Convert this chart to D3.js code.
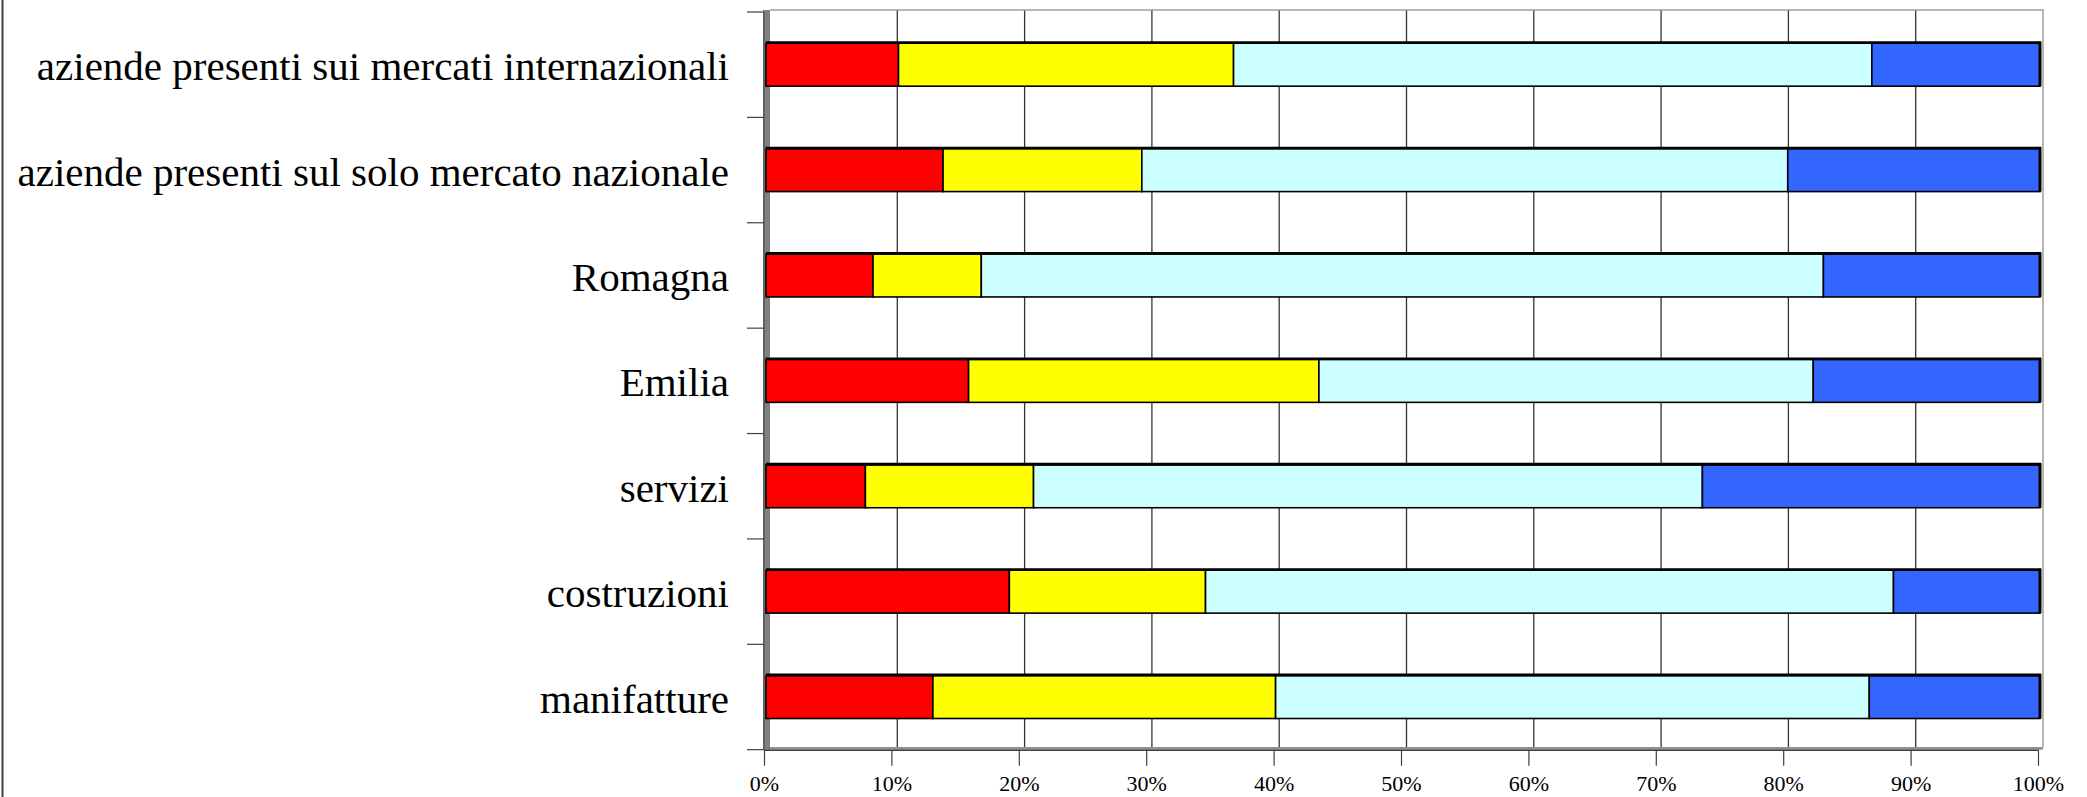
<!DOCTYPE html>
<html>
<head>
<meta charset="utf-8">
<script src="https://cdn.jsdelivr.net/npm/d3@7"></script>
<style>
  html, body { margin: 0; padding: 0; background: #fff; }
  svg { display: block; }
  text { font-family: "Liberation Serif", "Times New Roman", serif; }
</style>
</head>
<body>
<svg id="chart" width="2087" height="797"></svg>
<script>
// ---- Data ----
const categories = [
  "aziende presenti sui mercati internazionali",
  "aziende presenti sul solo mercato nazionale",
  "Romagna",
  "Emilia",
  "servizi",
  "costruzioni",
  "manifatture"
];
const seriesNames = ["s1", "s2", "s3", "s4"];
const seriesColors = ["#FF0000", "#FFFF00", "#CCFFFF", "#3366FF"];
const s1 = [10.4, 13.9, 8.4, 15.9, 7.8, 19.1, 13.1];
const s2 = [26.3, 15.6, 8.5, 27.5, 13.2, 15.4, 26.9];
const s3 = [50.1, 50.7, 66.1, 38.8, 52.5, 54.0, 46.6];
const s4 = [13.2, 19.8, 17.0, 17.8, 26.5, 11.5, 13.4];
const tickValues = [0, 10, 20, 30, 40, 50, 60, 70, 80, 90, 100];
const tickLabels = ["0%", "10%", "20%", "30%", "40%", "50%", "60%", "70%", "80%", "90%", "100%"];

// ---- Layout ----
const svg = d3.select("#chart");
const plotTop = 12, plotBottom = 749.7;
const wallTop = 10, floorY = 747;

const rows = categories.map((c, i) => {
  const vals = [s1[i], s2[i], s3[i], s4[i]];
  const tot = d3.sum(vals);
  return { cat: c, vals: vals.map(v => v / tot * 100) };
});

const x = d3.scaleLinear().domain([0, 100]).range([766, 2040]);      // bars
const xFront = d3.scaleLinear().domain([0, 100]).range([764, 2038]); // axis ticks
const xBack = d3.scaleLinear().domain([0, 100]).range([770, 2043]);  // back wall gridlines
const y = d3.scaleBand().domain(categories).range([plotTop, plotBottom])
  .paddingInner(0.592).paddingOuter(0.296);
const yEdge = d3.scaleLinear().domain([0, categories.length]).range([plotTop, plotBottom]);

// chart area left border
svg.append("line").attr("x1", 2.5).attr("x2", 2.5).attr("y1", 0).attr("y2", 797)
  .attr("stroke", "#404040").attr("stroke-width", 2);

// back wall gridlines
svg.append("g").selectAll("line").data(tickValues.slice(1, -1)).join("line")
  .attr("x1", d => xBack(d)).attr("x2", d => xBack(d))
  .attr("y1", wallTop).attr("y2", floorY)
  .attr("stroke", "#333333").attr("stroke-width", 1.3);

// back wall border (top + right)
svg.append("path")
  .attr("d", `M${xBack(0)},${wallTop} L${xBack(100)},${wallTop} L${xBack(100)},${floorY}`)
  .attr("fill", "none").attr("stroke", "#a0a0a0").attr("stroke-width", 1.5);

// floor
svg.append("rect").attr("x", xFront(0)).attr("y", floorY)
  .attr("width", xBack(100) - xFront(0)).attr("height", plotBottom - floorY)
  .attr("fill", "#909090");

// left side wall
svg.append("rect").attr("x", 763).attr("y", wallTop)
  .attr("width", xBack(0) - 763).attr("height", plotBottom - wallTop)
  .attr("fill", "#808080");

// category axis ticks (left)
svg.append("g").selectAll("line").data(d3.range(categories.length + 1)).join("line")
  .attr("x1", 747).attr("x2", 764)
  .attr("y1", d => yEdge(d)).attr("y2", d => yEdge(d))
  .attr("stroke", "#404040").attr("stroke-width", 1.2);
svg.append("line").attr("x1", 764).attr("x2", 764).attr("y1", plotTop).attr("y2", plotBottom)
  .attr("stroke", "#404040").attr("stroke-width", 1);

// category labels
svg.append("g").selectAll("text").data(categories).join("text")
  .attr("x", 729).attr("y", d => y(d) + y.bandwidth() / 2 + 15.5)
  .attr("text-anchor", "end").attr("font-size", 41).attr("fill", "#000")
  .text(d => d);

// bars
const barG = svg.append("g");
rows.forEach(r => {
  let acc = 0;
  const yy = y(r.cat), h = y.bandwidth();
  r.vals.forEach((v, j) => {
    barG.append("rect")
      .attr("x", x(acc)).attr("y", yy)
      .attr("width", x(acc + v) - x(acc)).attr("height", h)
      .attr("fill", seriesColors[j])
      .attr("stroke", "#000").attr("stroke-width", 1.6);
    acc += v;
  });
  // 3D top face and end face
  barG.append("line").attr("x1", x(0)).attr("x2", x(100) + 1)
    .attr("y1", yy - 0.5).attr("y2", yy - 0.5)
    .attr("stroke", "#000").attr("stroke-width", 2.8);
  barG.append("line").attr("x1", x(100)).attr("x2", x(100))
    .attr("y1", yy - 1.5).attr("y2", yy + h)
    .attr("stroke", "#000").attr("stroke-width", 3);
});

// value axis (bottom)
const xAxis = d3.axisBottom(xFront).tickValues(tickValues)
  .tickFormat((d, i) => tickLabels[i]).tickSize(16).tickSizeOuter(0).tickPadding(10);
const gx = svg.append("g").attr("transform", `translate(0,${plotBottom})`).call(xAxis);
gx.select(".domain").attr("stroke", "#404040").attr("stroke-width", 1.4);
gx.selectAll(".tick line").attr("stroke", "#404040").attr("stroke-width", 1.2);
gx.selectAll(".tick text").attr("font-size", 22).attr("fill", "#000")
  .attr("font-family", "'Liberation Serif', 'Times New Roman', serif");
</script>
</body>
</html>
